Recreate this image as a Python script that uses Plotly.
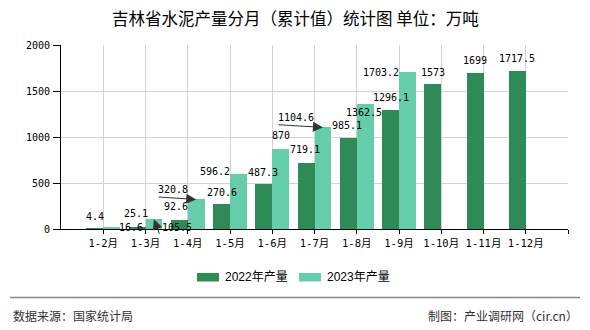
import plotly.graph_objects as go

# ---------------- data ----------------
months = ["1-2月", "1-3月", "1-4月", "1-5月", "1-6月", "1-7月", "1-8月",
          "1-9月", "1-10月", "1-11月", "1-12月"]
prod_2022 = [4.4, 25.1, 92.6, 270.6, 487.3, 719.1, 985.1, 1296.1, 1573, 1699, 1717.5]
prod_2023 = [16.6, 105.5, 320.8, 596.2, 870, 1104.6, 1362.5, 1703.2]
y_ticks = [0, 500, 1000, 1500, 2000]
series_names = ["2022年产量", "2023年产量"]
title_text = "吉林省水泥产量分月（累计值）统计图 单位：万吨"
source_text = "数据来源：国家统计局"
credit_text = "制图：产业调研网（cir.cn）"

# ---------------- styling ----------------
C_2022 = "#2E8B57"
C_2023 = "#66CDAA"
GRID = "#d3d3d3"
W, H = 590, 330
L, R, T, B = 61, 22, 45, 101
PW, PH = W - L - R, H - T - B
BAR_W = 0.4
NUM_FONT = "DejaVu Sans Mono, Noto Sans CJK SC"
CJK_FONT = "Noto Sans CJK SC"

# label offsets in px (dx right, dy up) relative to each bar's top centre
off_2022 = [(0, 12.5), (-1, 13.5), (-3, 13.5), (0, 12), (-1, 12), (-1, 13),
            (-1, 12.6), (0, 12), (0, 11.7), (0, 12), (0, 12.4)]
off_2023 = [(19, 0), (23, -8.7), (-23, 9.6), (-23.5, 2.3), (0, 13),
            (-27, 9.7), (-1, -9), (-26, 0)]
# leader arrows for displaced 2023 labels: index -> tail (ax, ay) px from head
arrows_2023 = {1: (6, 16), 2: (-39, -2.6), 5: (-46, -2.7)}
# extra underline for label index 1 (pixel offsets from bar top)
underline_2023 = {1: (6, 39, -16)}


def fmt(v):
    return f"{v:g}"


def px_x(px):
    return (px - L) / PW


def px_y(py):
    return (H - B - py) / PH


fig = go.Figure()
fig.add_trace(go.Bar(
    x=list(range(len(prod_2022))), y=prod_2022, width=BAR_W, offset=-BAR_W,
    marker=dict(color=C_2022, line=dict(width=0)), name=series_names[0],
    showlegend=False, hoverinfo="skip"))
fig.add_trace(go.Bar(
    x=list(range(len(prod_2023))), y=prod_2023, width=BAR_W, offset=0,
    marker=dict(color=C_2023, line=dict(width=0)), name=series_names[1],
    showlegend=False, hoverinfo="skip"))

annotations = []
shapes = []
label_font = dict(family=NUM_FONT, size=10, color="#000")
for i, v in enumerate(prod_2022):
    dx, dy = off_2022[i]
    annotations.append(dict(x=i - BAR_W / 2, y=v, xref="x", yref="y", text=fmt(v),
                            showarrow=False, xshift=dx, yshift=dy,
                            xanchor="center", yanchor="middle", font=label_font))
for i, v in enumerate(prod_2023):
    dx, dy = off_2023[i]
    annotations.append(dict(x=i + BAR_W / 2, y=v, xref="x", yref="y", text=fmt(v),
                            showarrow=False, xshift=dx, yshift=dy,
                            xanchor="center", yanchor="middle", font=label_font))
    if i in arrows_2023:
        ax, ay = arrows_2023[i]
        annotations.append(dict(x=i + BAR_W / 2, y=v, xref="x", yref="y", text="",
                                showarrow=True, ax=ax, ay=ay, axref="pixel", ayref="pixel",
                                arrowhead=2, arrowsize=2, arrowwidth=1,
                                arrowcolor="#333", standoff=0, startstandoff=0))
    if i in underline_2023:
        x0, x1, yy = underline_2023[i]
        shapes.append(dict(type="line", xref="x", yref="y",
                           xsizemode="pixel", ysizemode="pixel",
                           xanchor=i + BAR_W / 2, yanchor=v,
                           x0=x0, x1=x1, y0=yy, y1=yy,
                           line=dict(color="#555", width=1)))

# title
annotations.append(dict(x=px_x(295), y=px_y(17.5), xref="paper", yref="paper",
                        text=title_text, showarrow=False, xanchor="center",
                        yanchor="middle", font=dict(family=CJK_FONT, size=16.5, color="#000")))

# manual legend
legend_items = [(197, 223, C_2022, series_names[0]), (299, 325, C_2023, series_names[1])]
for sx, tx, col, name in legend_items:
    shapes.append(dict(type="rect", xref="paper", yref="paper",
                       x0=px_x(sx), x1=px_x(sx + 22), y0=px_y(273), y1=px_y(281.5),
                       fillcolor=col, line=dict(width=0)))
    annotations.append(dict(x=px_x(tx), y=px_y(277), xref="paper", yref="paper",
                            text=name, showarrow=False, xanchor="left", yanchor="middle",
                            font=dict(family="Liberation Sans, Noto Sans CJK SC",
                                      size=12, color="#000")))

# footer
shapes.append(dict(type="line", xref="paper", yref="paper",
                   x0=px_x(10), x1=px_x(580), y0=px_y(297.5), y1=px_y(297.5),
                   line=dict(color="#888", width=1.5)))
annotations.append(dict(x=px_x(11), y=px_y(315), xref="paper", yref="paper",
                        text=source_text, showarrow=False, xanchor="left",
                        yanchor="middle", font=dict(family=CJK_FONT, size=12, color="#333")))
annotations.append(dict(x=px_x(580), y=px_y(315), xref="paper", yref="paper",
                        text=credit_text, showarrow=False, xanchor="right",
                        yanchor="middle", font=dict(family=CJK_FONT, size=12, color="#333")))

fig.update_layout(
    width=W, height=H, autosize=False,
    margin=dict(l=L, r=R, t=T, b=B, pad=0),
    paper_bgcolor="white", plot_bgcolor="white",
    barmode="overlay", bargap=0,
    showlegend=False,
    annotations=annotations, shapes=shapes,
    xaxis=dict(range=[-1, len(months)], tickmode="array",
               tickvals=list(range(len(months) + 1)), ticktext=months + [""],
               showline=True, linecolor="#000", linewidth=1,
               ticks="outside", ticklen=4, tickcolor="#000",
               showgrid=True, gridcolor=GRID, gridwidth=1, zeroline=False,
               tickfont=dict(family=NUM_FONT, size=10.5, color="#000"),
               fixedrange=True),
    yaxis=dict(range=[0, 2000], tickmode="array", tickvals=y_ticks,
               showline=True, linecolor="#000", linewidth=1,
               ticks="outside", ticklen=7, tickcolor="#000",
               showgrid=True, gridcolor=GRID, gridwidth=1, zeroline=False,
               tickfont=dict(family=NUM_FONT, size=10, color="#000"),
               ticklabelstandoff=1, fixedrange=True),
)

fig.write_html("out.html", config={"displayModeBar": False})
